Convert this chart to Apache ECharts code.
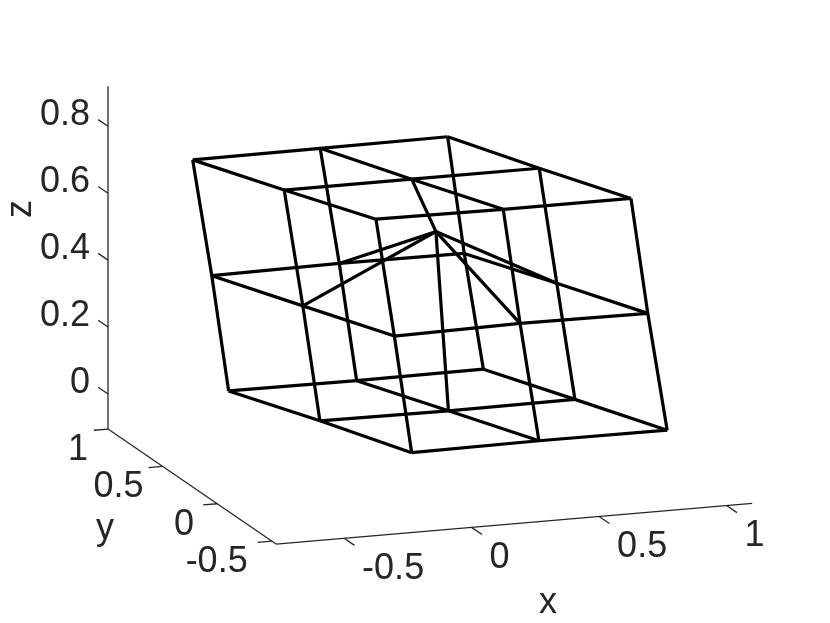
<!DOCTYPE html>
<html>
<head>
<meta charset="utf-8">
<script src="https://cdn.jsdelivr.net/npm/echarts@6/dist/echarts.min.js"></script>
<title>Mesh</title>
</head>
<body style="margin: 0; background: #fff">
<div id="container" style="width: 830px; height: 623px"></div>
<script type="text/javascript">
// mesh nodes: one 3x3 block per layer (bottom, middle, top), rows are y = 0, 0.5, 1
let meshX = [
    [[-0.004, 0.495, 0.998], [-0.150, 0.354, 0.850], [-0.294, 0.208, 0.705]],
    [[-0.072, 0.421, 0.922], [-0.217, 0.305, 0.779], [-0.360, 0.140, 0.630]],
    [[-0.144, 0.355, 0.856], [-0.290, 0.210, 0.710], [-0.435, 0.065, 0.565]]
]
let meshY = [0, 0.5, 1]
let meshZ = [
    [[-0.002, 0.001, 0], [-0.009, -0.012, -0.010], [-0.022, -0.024, -0.022]],
    [[0.351, 0.357, 0.354], [0.339, 0.527, 0.342], [0.327, 0.331, 0.329]],
    [[0.705, 0.702, 0.702], [0.690, 0.690, 0.690], [0.678, 0.680, 0.682]]
]

let xTicks = [-0.5, 0, 0.5, 1]
let yTicks = [-0.5, 0, 0.5, 1]
let zTicks = [0, 0.2, 0.4, 0.6, 0.8]
let xLim = [-0.767, 1.1]
let yLim = [-0.54, 1]
let zLim = [-0.105, 0.92]

// fixed orthographic view, gives pixel coordinates for the hidden axes
function project(x, y, z) {
    return [
        412.7 + 255 * x - 109.1 * y,
        451.9 - 21.8 * x - 74.7 * y - 334.5 * z
    ]
}

const FONT = 'Liberation Sans'
const TEXT = '#262626'
let series = []

function addLine(points, color, width) {
    series.push({
        type: 'line',
        data: points,
        symbol: 'none',
        silent: true,
        animation: false,
        lineStyle: { color: color, width: width, cap: 'butt', join: 'miter' }
    })
}

// dx, dy: label shift in pixels from the tick, dx may differ per label
function addLabels(points, texts, align, dx, dy) {
    series.push({
        type: 'scatter',
        symbolSize: 0,
        silent: true,
        animation: false,
        itemStyle: { opacity: 1 },
        data: points.map((p, i) => ({
            value: p,
            label: { offset: [Array.isArray(dx) ? dx[i] : dx, dy] }
        })),
        label: {
            show: true,
            position: 'inside',
            align: align,
            verticalAlign: 'middle',
            color: TEXT,
            opacity: 1,
            fontFamily: FONT,
            fontSize: 36,
            formatter: p => texts[p.dataIndex]
        }
    })
}

// box axes
addLine([project(xLim[0], yLim[0], zLim[0]), project(xLim[1], yLim[0], zLim[0])], TEXT, 1.3)
addLine([project(xLim[0], yLim[0], zLim[0]), project(xLim[0], yLim[1], zLim[0])], TEXT, 1.3)
addLine([project(xLim[0], yLim[1], zLim[0]), project(xLim[0], yLim[1], zLim[1])], TEXT, 1.3)

// ticks
xTicks.forEach(t => addLine([project(t, yLim[0], zLim[0]), project(t, yLim[0] - 0.095, zLim[0])], TEXT, 1.3))
yTicks.forEach(t => addLine([project(xLim[0], t, zLim[0]), project(xLim[0] - 0.055, t, zLim[0])], TEXT, 1.3))
zTicks.forEach(t => addLine([project(xLim[0], yLim[1], t), project(xLim[0], yLim[1] + 0.09, t)], TEXT, 1.3))

addLabels(xTicks.map(t => project(t, yLim[0], zLim[0])), xTicks.map(String), 'left', 18, 31)
addLabels(yTicks.map(t => project(xLim[0], t, zLim[0])), yTicks.map(String), 'right', [-24, -23, -19, -20], 21)
addLabels(zTicks.map(t => project(xLim[0], yLim[1], t)), zTicks.map(String), 'right', -18, -11)

// wireframe
let node = (k, j, i) => project(meshX[k][j][i], meshY[j], meshZ[k][j][i])
let idx = [0, 1, 2]
idx.forEach(a => idx.forEach(b => {
    addLine(idx.map(i => node(a, b, i)), '#000', 3.2)
    addLine(idx.map(j => node(a, j, b)), '#000', 3.2)
    addLine(idx.map(k => node(k, a, b)), '#000', 3.2)
}))

let nameText = (text, x, y, rotation) => ({
    type: 'text',
    x: x,
    y: y,
    rotation: rotation || 0,
    silent: true,
    style: {
        text: text,
        fill: TEXT,
        font: '36px "' + FONT + '"',
        textAlign: 'center',
        textVerticalAlign: 'middle'
    }
})

let chart = echarts.init(document.getElementById('container'), null, { renderer: 'canvas' })
chart.setOption({
    backgroundColor: '#fff',
    animation: false,
    grid: { left: 0, right: 0, top: 0, bottom: 0 },
    xAxis: { type: 'value', min: 0, max: 830, show: false },
    yAxis: { type: 'value', min: 0, max: 623, inverse: true, show: false },
    series: series,
    graphic: [
        nameText('x', 548, 603),
        nameText('y', 105, 529),
        nameText('z', 21, 209, Math.PI / 2)
    ]
})
</script>
</body>
</html>
